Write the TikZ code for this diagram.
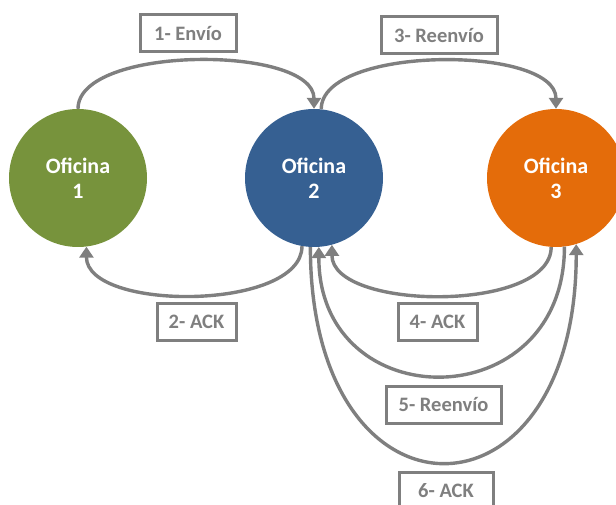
\documentclass[tikz,border=0pt]{standalone}
\usepackage{fontspec}
\setmainfont{Carlito}
\usetikzlibrary{arrows.meta}
\definecolor{ofgreen}{HTML}{77933C}
\definecolor{ofblue}{HTML}{366092}
\definecolor{oforange}{HTML}{E46C0A}
\definecolor{lgray}{HTML}{7F7F7F}
\begin{document}
\begin{tikzpicture}[x=1pt,y=1pt,
  office/.style={circle, minimum size=138pt, inner sep=0pt, text=white,
    font=\fontsize{22}{25}\selectfont\bfseries, align=center},
  lbl/.style={draw=lgray, line width=3pt, fill=white, text=lgray,
    font=\fontsize{20.5}{24}\selectfont\bfseries, inner sep=0pt, minimum height=37pt},
  conn/.style={draw=lgray, line width=3.4pt, -{Triangle[length=11pt,width=14pt]}},
  link/.style={draw=lgray, line width=3.4pt}]
\useasboundingbox (0,0) rectangle (616,504);
\clip (0,0) rectangle (616,504);
% offices
\node[office, fill=ofgreen] (o1) at (78,326) {Oficina\\1};
\node[office, fill=ofblue] (o2) at (314,326) {Oficina\\2};
\node[office, fill=oforange] (o3) at (556,326) {Oficina\\3};
% connectors
\draw[conn] (o1.north) .. controls +(0,64) and +(0,64) .. (o2.north);
\draw[conn] (o2.84) .. controls +(0,64) and +(0,64) .. (o3.north);
\draw[conn] (o2.260) .. controls +(0,-65) and +(0,-65) .. (o1.277.5);
\draw[conn] (o3.266) .. controls +(0,-66) and +(0,-66) .. (o2.285);
\draw[conn] (o3.277.5) .. controls +(0,-172) and +(0,-172) .. (o2.274);
\draw[conn] (o2.267) .. controls +(0,-289) and +(0,-289) .. (o3.287);
% labels
\node[lbl, minimum width=96pt] (l1) at (188,470.5) {1- Envío};
\node[lbl, minimum width=116pt] (l3) at (439,468.5) {3- Reenvío};
\node[lbl, minimum width=79pt] (l2) at (196.5,182) {2- ACK};
\node[lbl, minimum width=79pt] (l4) at (437.5,182) {4- ACK};
\node[lbl, minimum width=115pt] (l5) at (443.5,99.5) {5- Reenvío};
\node[lbl, minimum width=94pt] (l6) at (446,13.5) {6- ACK};
\end{tikzpicture}
\end{document}
